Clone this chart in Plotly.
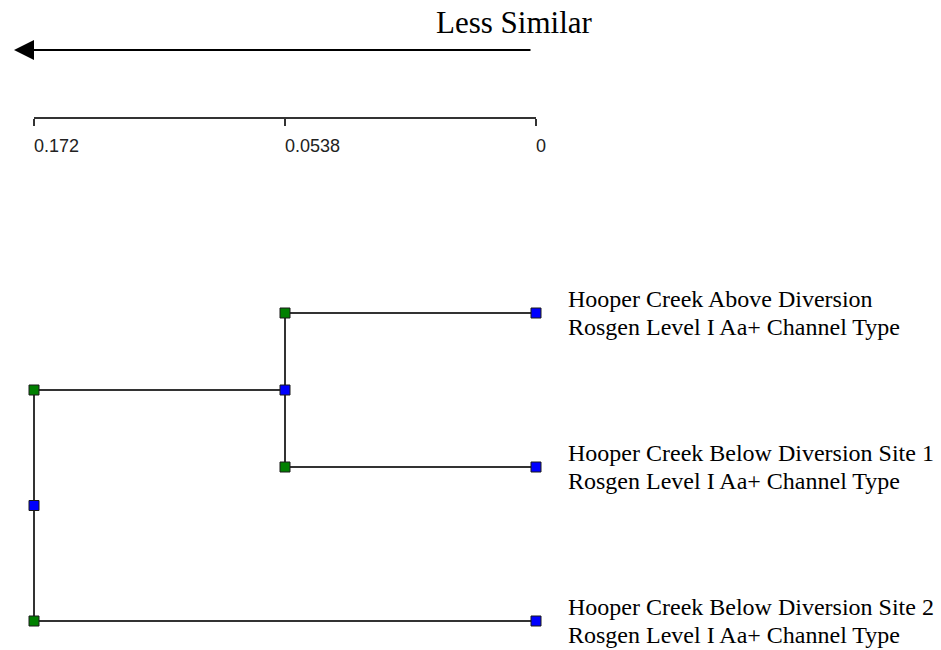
import plotly.graph_objects as go

# Sites being clustered (top to bottom) and their channel classification
site_names = [
    "Hooper Creek Above Diversion",
    "Hooper Creek Below Diversion Site 1",
    "Hooper Creek Below Diversion Site 2",
]
channel_types = [
    "Rosgen Level I Aa+ Channel Type",
    "Rosgen Level I Aa+ Channel Type",
    "Rosgen Level I Aa+ Channel Type",
]

# Distance levels shown on the scale, from most to least dissimilar
levels = [0.172, 0.0538, 0]
level_labels = ["0.172", "0.0538", "0"]

# Agglomeration steps: (child a, child b, joining distance); new clusters get ids 3, 4, ...
merges = [
    (0, 1, 0.0538),
    (3, 2, 0.172),
]

LINE_COLOR = "#333333"
GREEN = "#008000"
BLUE = "#0000ff"


def level_pos(d):
    """Position of a distance level on the (rank-spaced) scale."""
    return levels.index(d)


# node id -> (x on level scale, y position); leaves sit at distance 0
nodes = {i: (level_pos(0), i) for i in range(len(site_names))}

lx, ly = [], []
corner_x, corner_y = [], []
mid_x, mid_y = [], []
for k, (a, b, d) in enumerate(merges):
    xm = level_pos(d)
    xa, ya = nodes[a]
    xb, yb = nodes[b]
    ym = (ya + yb) / 2
    # vertical join plus a horizontal arm out to each child
    lx += [xm, xm, None, xm, xa, None, xm, xb, None]
    ly += [ya, yb, None, ya, ya, None, yb, yb, None]
    corner_x += [xm, xm]
    corner_y += [ya, yb]
    mid_x.append(xm)
    mid_y.append(ym)
    nodes[len(site_names) + k] = (xm, ym)

leaf_x = [nodes[i][0] for i in range(len(site_names))]
leaf_y = [nodes[i][1] for i in range(len(site_names))]

fig = go.Figure()
fig.add_trace(go.Scatter(x=lx, y=ly, mode="lines",
                         line=dict(color=LINE_COLOR, width=2),
                         hoverinfo="skip", showlegend=False))
marker_line = dict(color="#1a1a1a", width=1)
fig.add_trace(go.Scatter(x=corner_x, y=corner_y, mode="markers",
                         marker=dict(symbol="square", size=10, color=GREEN, line=marker_line),
                         showlegend=False))
fig.add_trace(go.Scatter(x=mid_x + leaf_x, y=mid_y + leaf_y, mode="markers",
                         marker=dict(symbol="square", size=10, color=BLUE, line=marker_line),
                         showlegend=False))
# Invisible trace that carries the distance scale axis
fig.add_trace(go.Scatter(x=[0, 2], y=[0, 0], xaxis="x2", yaxis="y2",
                         mode="markers", marker=dict(opacity=0),
                         hoverinfo="skip", showlegend=False))

W, H = 941, 650
PX_PER_LEVEL = 251
X_LEFT = 34
LEAF_TOP = 313
LEAF_STEP = 154

fig.update_layout(
    width=W, height=H,
    margin=dict(l=0, r=0, t=0, b=0, pad=0, autoexpand=False),
    paper_bgcolor="white", plot_bgcolor="white",
    xaxis=dict(range=[-X_LEFT / PX_PER_LEVEL, (W - X_LEFT) / PX_PER_LEVEL],
               visible=False, fixedrange=True),
    yaxis=dict(range=[(H - LEAF_TOP) / LEAF_STEP, -LEAF_TOP / LEAF_STEP],
               visible=False, fixedrange=True),
    xaxis2=dict(domain=[X_LEFT / W, (X_LEFT + 2 * PX_PER_LEVEL) / W],
                range=[0, 2], anchor="y2", side="bottom",
                showline=True, linecolor=LINE_COLOR, linewidth=2,
                ticks="outside", ticklen=7, tickwidth=2, tickcolor=LINE_COLOR,
                tickvals=[level_pos(v) for v in levels], ticktext=level_labels,
                ticklabelposition="outside right", ticklabelstandoff=11,
                ticklabelshift=-2,
                tickfont=dict(family="Liberation Sans", size=18, color="#222222"),
                showgrid=False, zeroline=False, fixedrange=True),
    yaxis2=dict(domain=[1 - 117 / H, 1 - 107 / H], visible=False,
                range=[-1, 1], fixedrange=True),
    font=dict(family="Liberation Serif", color="black"),
)

# Leaf labels: site name above, channel type below
for i in range(len(site_names)):
    for text, shift in ((site_names[i], 14), (channel_types[i], -14)):
        fig.add_annotation(x=leaf_x[i], y=leaf_y[i], xref="x", yref="y",
                           text=text, showarrow=False, xanchor="left",
                           yanchor="middle", xshift=30, yshift=shift,
                           font=dict(family="Liberation Serif", size=24, color="black"))

# Direction arrow and its caption
fig.add_annotation(x=14 / W, y=1 - 50 / H, xref="paper", yref="paper",
                   text="", showarrow=True, ax=518, ay=0,
                   arrowhead=2, arrowsize=2, arrowwidth=2, arrowcolor="black")
fig.add_annotation(x=434 / W, y=1 - 22 / H, xref="paper", yref="paper",
                   text="Less Similar", showarrow=False,
                   xanchor="left", yanchor="middle",
                   font=dict(family="Liberation Serif", size=31, color="black"))

fig.write_html("out.html")
